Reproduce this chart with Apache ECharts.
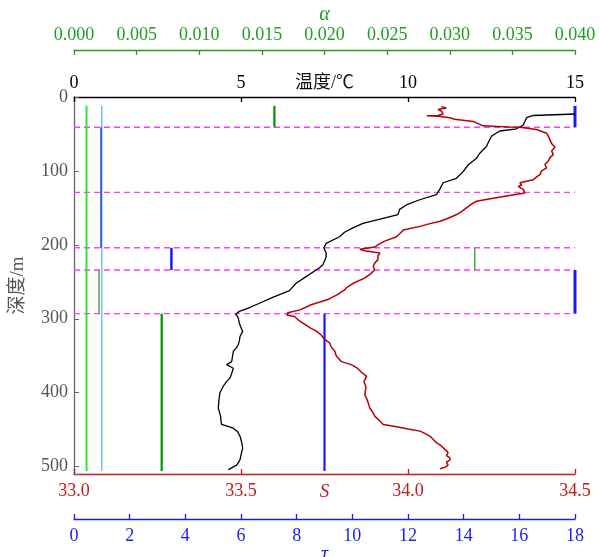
<!DOCTYPE html>
<html>
<head>
<meta charset="utf-8">
<script src="https://cdn.jsdelivr.net/npm/echarts@6/dist/echarts.min.js"></script>
<style>
html,body{margin:0;padding:0;background:#fff;}
#chart{width:600px;height:557px;}
</style>
</head>
<body>
<div id="chart"></div>
<script>
// ---- Data ----
const tempDepth = [23,25,28,33,38,43,46,50,53,60,67,76,83,92,101,110,116,125,132,139,146,152,159,166,171,177,183,189,198,204,211,216,222,227,231,234,243,252,262,271,280,286,290,294,297,301,306,312,317,324,330,335,340,344,350,358,362,367,374,380,386,391,400,410,421,427,432,438,443,448,453,459,467,475,484,491,498,504];
const tempValue = [15.0,13.75,13.55,13.5,13.45,13.25,12.75,12.6,12.5,12.42,12.35,12.15,12.05,11.8,11.65,11.45,11.05,10.95,10.85,10.35,9.95,9.75,9.7,9.1,8.65,8.35,8.1,7.95,7.55,7.48,7.55,7.55,7.5,7.45,7.35,7.25,6.95,6.65,6.45,5.95,5.5,5.2,4.95,4.84,4.9,4.93,4.95,5.0,5.05,4.97,4.95,4.92,4.85,4.77,4.75,4.72,4.57,4.77,4.72,4.67,4.55,4.47,4.37,4.34,4.32,4.36,4.39,4.4,4.42,4.77,4.9,4.97,5.02,5.05,5.0,4.97,4.87,4.62];

const salDepth = [13,15,17,19,21,23,25,25.5,26,28,30,33,36,39,40.5,41,44,49,53,58,63,68,73,78,82,87,91,96,100,105,108,112,116,119,121,125,130,134,137,141,145,150,155,159,164,168,172,175,180,185,189,195,200,203,206,208,211,215,220,225,229,234,240,245,252,258,261,267,274,281,288,292,295,297,299,303,308,313,317,322,328,333,338,344,350,358,362,366,372,378,385,392,403,410,421,427,432,438,443,446,449,452,456,459,463,468,472,477,481,485,488,491,494,498,501,503];
const salValue = [34.10,34.115,34.09,34.10,34.095,34.105,34.09,34.056,34.09,34.125,34.14,34.195,34.21,34.225,34.30,34.335,34.385,34.415,34.42,34.425,34.43,34.44,34.43,34.435,34.425,34.42,34.41,34.415,34.40,34.395,34.385,34.375,34.335,34.34,34.33,34.345,34.35,34.295,34.255,34.205,34.19,34.175,34.16,34.146,34.12,34.096,34.06,34.036,33.986,33.975,33.966,33.93,33.91,33.90,33.856,33.87,33.916,33.91,33.91,33.90,33.896,33.90,33.886,33.87,33.836,33.816,33.81,33.79,33.76,33.71,33.677,33.64,33.637,33.66,33.657,33.675,33.692,33.71,33.727,33.74,33.751,33.766,33.77,33.781,33.785,33.801,33.83,33.846,33.86,33.876,33.868,33.874,33.871,33.878,33.886,33.895,33.901,33.915,33.926,33.966,34.0,34.036,34.055,34.066,34.075,34.086,34.1,34.111,34.12,34.115,34.125,34.126,34.115,34.12,34.11,34.096];

const boundaryDepths = [41, 129, 204, 234, 293];

// vertical segments: [topDepth, bottomDepth, value]
const alphaSegments = [[12,41,0.016],[204,234,0.032],[234,293,0.002],[293,506,0.007]];
const tauSegments = [[12,41,18],[41,204,0.97],[204,234,3.5],[234,293,18],[293,506,9]];
const alphaThreshold = [12, 506, 0.001];
const tauThreshold = [12, 506, 1.0];

const tempTicks = [0, 15, 5];
const alphaTicks = [0, 0.04, 0.005];
const salTicks = [33.0, 34.5, 0.5];
const tauTicks = [0, 18, 2];
const depthTicks = [0, 510, 100];

// ---- Chart ----
const SERIF = "Liberation Serif, Noto Sans CJK SC, serif";
const GREEN = '#1f9e1f', RED = '#c41a1a', BLUE = '#1a1aff', GRAY = '#555555';

function xAx(pos, offset, ticks, color, name, nameGap, fmt, margin, nameStyle) {
  return {
    type: 'value', position: pos, offset: offset,
    min: ticks[0], max: ticks[1], interval: ticks[2],
    name: name, nameLocation: 'middle', nameGap: nameGap, nameMoveOverlap: false,
    nameTextStyle: Object.assign({color: color, fontFamily: SERIF, fontSize: 19}, nameStyle || {}),
    axisLine: {show: true, onZero: false, lineStyle: {color: color, width: 1.3}},
    axisTick: {show: true, inside: true, length: 5, lineStyle: {color: color, width: 1.3}},
    axisLabel: {color: color, fontFamily: SERIF, fontSize: 18, margin: margin, formatter: fmt},
    splitLine: {show: false}
  };
}

const seg = (s) => [[s[2], s[0]], [s[2], s[1]]];

const series = [];
// dashed layer boundaries, spanning the temperature axis range
boundaryDepths.forEach(d => {
  series.push({type: 'line', xAxisIndex: 0, yAxisIndex: 0, symbol: 'none', showSymbol: false, silent: true,
    data: [[tempTicks[0], d], [tempTicks[1], d]],
    lineStyle: {color: '#ff3cff', width: 1.4, type: [6, 4]}});
});
function vline(axisIdx, s, color, width) {
  series.push({type: 'line', xAxisIndex: axisIdx, yAxisIndex: 0, data: seg(s), showSymbol: false, symbol: 'none',
    clip: false, lineStyle: {color: color, width: width}, silent: true});
}
vline(1, alphaThreshold, '#22ee22', 2);
vline(3, tauThreshold, '#44bbee', 1.2);
vline(1, alphaSegments[0], '#009400', 2.2);
vline(1, alphaSegments[1], '#119911', 1.2);
vline(1, alphaSegments[2], '#338a10', 1.2);
vline(1, alphaSegments[3], '#009400', 2.2);
vline(3, tauSegments[0], BLUE, 3);
vline(3, tauSegments[1], '#2233cc', 1.4);
vline(3, tauSegments[2], BLUE, 2.5);
vline(3, tauSegments[3], BLUE, 3);
vline(3, tauSegments[4], BLUE, 2.2);

series.push({
  type: 'line', xAxisIndex: 0, yAxisIndex: 0, symbol: 'none', showSymbol: false,
  data: tempDepth.map((d, i) => [tempValue[i], d]),
  lineStyle: {color: '#000', width: 1.3}
});
series.push({
  type: 'line', xAxisIndex: 2, yAxisIndex: 0, symbol: 'none', showSymbol: false,
  data: salDepth.map((d, i) => [salValue[i], d]),
  lineStyle: {color: '#b80000', width: 1.5}
});

const chart = echarts.init(document.getElementById('chart'), null, {renderer: 'canvas'});
chart.setOption({
  animation: false,
  backgroundColor: '#fff',
  grid: {left: 74, right: 25, top: 97, bottom: 83, outerBoundsMode: 'none', containLabel: false},
  xAxis: [
    xAx('top', 0, tempTicks, '#000', '温度/℃', 5, v => String(v), 5, {color: '#111', fontSize: 18}),
    xAx('top', 47, alphaTicks, GREEN, 'α', 25, v => v.toFixed(3), 6, {fontSize: 20, fontStyle: 'italic'}),
    xAx('bottom', 0, salTicks, RED, 'S', 8, v => v.toFixed(1), 8, {fontSize: 19, fontStyle: 'italic'}),
    xAx('bottom', 45, tauTicks, BLUE, 'τ', 26, v => String(v), 8, {fontSize: 20, fontStyle: 'italic'})
  ],
  yAxis: [{
    type: 'value', inverse: true, min: depthTicks[0], max: depthTicks[1], interval: depthTicks[2],
    name: '深度/m', nameLocation: 'middle', nameGap: 46, nameRotate: 90, nameMoveOverlap: false,
    nameTextStyle: {color: GRAY, fontFamily: SERIF, fontSize: 19},
    axisLine: {show: true, onZero: false, lineStyle: {color: '#666', width: 1.3}},
    axisTick: {show: true, inside: true, length: 5, lineStyle: {color: '#666'}},
    axisLabel: {color: GRAY, fontFamily: SERIF, fontSize: 18, margin: 6,
      formatter: v => (v % 100 === 0 ? String(v) : '')},
    splitLine: {show: false}
  }],
  series: series
});
</script>
</body>
</html>
